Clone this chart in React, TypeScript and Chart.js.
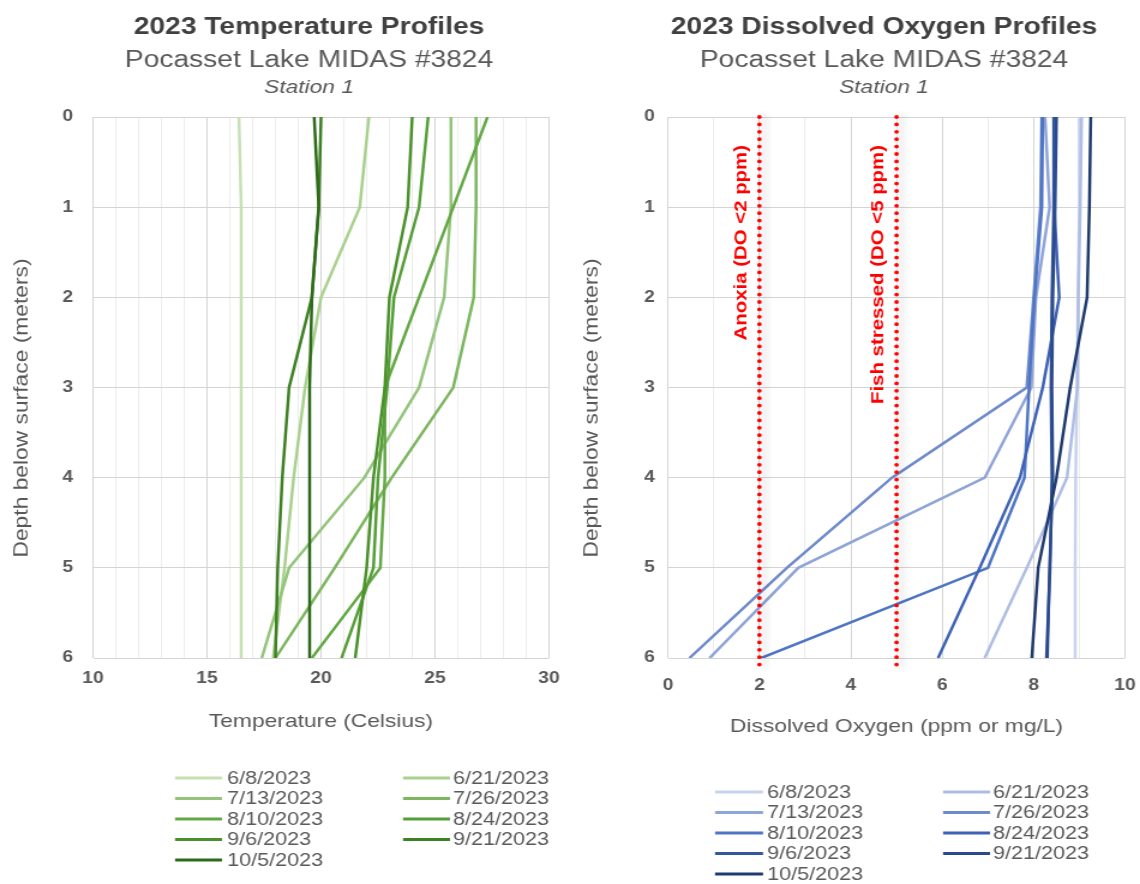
import React, { useEffect, useRef } from 'react';
import { Chart, registerables } from 'chart.js';

Chart.register(...registerables);

const FONT = "'Liberation Sans', Arial, Helvetica, sans-serif";
const STRETCH = 1.2;
const PAGE_W = 570;
const PAGE_H = 884;

// ---------- data ----------
const depths = [0, 1, 2, 3, 4, 5, 6];
const surveyDates = ['6/8/2023', '6/21/2023', '7/13/2023', '7/26/2023', '8/10/2023', '8/24/2023', '9/6/2023', '9/21/2023', '10/5/2023'];

// Temperature (Celsius) at depths 0..6 m
const temp0608 = [16.4, 16.5, 16.5, 16.5, 16.5, 16.5, 16.5];
const temp0621 = [22.1, 21.7, 20.0, 19.3, 18.8, 18.4, 17.9];
const temp0713 = [25.7, 25.7, 25.4, 24.3, 21.9, 18.6, 17.4];
const temp0726 = [26.8, 26.8, 26.7, 25.8, 23.1, 20.6, 18.0];
const temp0810 = [27.3, 25.8, 24.3, 22.8, 22.8, 22.6, 19.6];
const temp0824 = [24.7, 24.3, 23.2, 22.9, 22.5, 22.3, 20.9];
const temp0906 = [24.0, 23.8, 23.0, 22.8, 22.3, 22.0, 21.5];
const temp0921 = [20.0, 19.9, 19.6, 18.6, 18.3, 18.1, 18.0];
const temp1005 = [19.7, 19.9, 19.6, 19.5, 19.5, 19.5, 19.5];

// Dissolved oxygen (mg/L) at depths 0..6 m
const do0608 = [9.0, 9.0, 8.97, 8.95, 8.92, 8.91, 8.91];
const do0621 = [9.05, 9.02, 8.98, 8.96, 8.73, 7.85, 6.93];
const do0713 = [8.25, 8.35, 8.05, 7.95, 6.93, 2.85, 0.91];
const do0726 = [8.18, 8.15, 8.0, 7.85, 4.9, 2.6, 0.47];
const do0810 = [8.2, 8.18, 8.02, 7.9, 7.8, 7.0, 2.04];
const do0824 = [8.47, 8.45, 8.56, 8.2, 7.7, 6.82, 5.91];
const do0906 = [8.45, 8.44, 8.4, 8.38, 8.4, 8.36, 8.28];
const do0921 = [8.5, 8.47, 8.42, 8.4, 8.42, 8.35, 8.3];
const do1005 = [9.25, 9.22, 9.17, 8.8, 8.5, 8.1, 7.96];

const doThresholds = [2, 5];
const doThresholdLabels = ['Anoxia (DO <2 ppm)', 'Fish stressed (DO <5 ppm)'];

const greenColors = ['#c6e0b4', '#a9d18e', '#92c47a', '#7cb65f', '#64a845', '#569e38', '#4a912b', '#3e8024', '#2d6a1a'];
const blueColors = ['#c8d2ec', '#aebde3', '#8fa4d7', '#6f8bcc', '#4f75c5', '#3f63b4', '#34569f', '#2a4a8c', '#1f3a6e'];

const tempSeries = [temp0608, temp0621, temp0713, temp0726, temp0810, temp0824, temp0906, temp0921, temp1005];
const doSeries = [do0608, do0621, do0713, do0726, do0810, do0824, do0906, do0921, do1005];

// ---------- helpers ----------
function profileDatasets(series: number[][], colors: string[]) {
  return series.map((vals, i) => ({
    label: surveyDates[i],
    data: vals.map((v, k) => ({ x: v, y: depths[k] })),
    borderColor: colors[i],
    backgroundColor: colors[i],
    borderWidth: 2.5,
    pointRadius: 0,
    pointHoverRadius: 0,
    showLine: true,
    fill: false,
    tension: 0,
    order: -i,
    isProfile: true,
  }));
}

function thresholdDatasets() {
  return doThresholds.map((t, i) => ({
    label: doThresholdLabels[i],
    data: [{ x: t, y: depths[0] }, { x: t, y: depths[depths.length - 1] + 0.08 }],
    borderColor: '#ff0000',
    borderWidth: 3.8,
    borderDash: [0, 7.4],
    borderCapStyle: 'round',
    pointRadius: 0,
    showLine: true,
    fill: false,
    clip: false,
    order: -100,
    isThreshold: true,
    thresholdText: doThresholdLabels[i],
  }));
}

function drawRotated(ctx: CanvasRenderingContext2D, text: string, x: number, y: number, align: CanvasTextAlign) {
  ctx.save();
  ctx.translate(x, y);
  ctx.scale(1 / STRETCH, STRETCH);
  ctx.rotate(-Math.PI / 2);
  ctx.textAlign = align;
  ctx.textBaseline = 'middle';
  ctx.fillText(text, 0, 0);
  ctx.restore();
}

type PanelSpec = {
  pageLeft: number;
  plotLeft: number;
  plotRight: number;
  plotTop: number;
  plotBottom: number;
  title: string;
  subtitle: string;
  station: string;
  titleCx: number;
  xMin: number;
  xMax: number;
  xLabelEvery: number;
  xTickPad: number;
  xTitle: string;
  xTitleY: number;
  yTitle: string;
  yTitleX: number;
  yTitleCy: number;
  yTickPad: number;
  legendCol1: [number, number, number];
  legendCol2: [number, number, number];
  legendRow0: number;
  legendGap: number;
  datasets: any[];
};

function makePanelPlugin(spec: PanelSpec) {
  const lx = (px: number) => (px - spec.pageLeft) / STRETCH;
  return {
    id: 'panelDecor',
    beforeDatasetDraw(chart: any, args: any) {
      const ds = chart.data.datasets[args.index];
      if (ds && ds.isThreshold) {
        const ctx = chart.ctx;
        ctx.shadowColor = 'rgba(0,0,0,0.28)';
        ctx.shadowBlur = 6;
        ctx.shadowOffsetX = 4;
        ctx.shadowOffsetY = 0;
      }
    },
    afterDatasetDraw(chart: any, args: any) {
      const ds = chart.data.datasets[args.index];
      if (ds && ds.isThreshold) {
        const ctx = chart.ctx;
        ctx.shadowColor = 'rgba(0,0,0,0)';
        ctx.shadowBlur = 0;
        ctx.shadowOffsetX = 0;
      }
    },
    afterDraw(chart: any) {
      const ctx: CanvasRenderingContext2D = chart.ctx;
      const area = chart.chartArea;
      ctx.save();
      // titles
      ctx.textAlign = 'center';
      ctx.textBaseline = 'alphabetic';
      ctx.fillStyle = '#404040';
      ctx.font = `bold 23.5px ${FONT}`;
      ctx.fillText(spec.title, lx(spec.titleCx), 33.5);
      ctx.fillStyle = '#595959';
      ctx.font = `23.5px ${FONT}`;
      ctx.fillText(spec.subtitle, lx(spec.titleCx), 67);
      ctx.font = `italic 19px ${FONT}`;
      ctx.fillText(spec.station, lx(spec.titleCx), 93);

      // axis titles
      ctx.font = `19px ${FONT}`;
      ctx.fillStyle = '#595959';
      ctx.textBaseline = 'middle';
      ctx.fillText(spec.xTitle, (area.left + area.right) / 2, spec.xTitleY);
      drawRotated(ctx, spec.yTitle, lx(spec.yTitleX), spec.yTitleCy, 'center');

      // threshold labels
      const xScale = chart.scales.x;
      chart.data.datasets.forEach((ds: any) => {
        if (!ds.isThreshold) return;
        ctx.fillStyle = '#ff0000';
        ctx.font = `bold 17px ${FONT}`;
        const px = xScale.getPixelForValue(ds.data[0].x);
        drawRotated(ctx, ds.thresholdText, px - 18 / STRETCH, area.top + 28, 'right');
      });

      // legend
      const items = chart.data.datasets.filter((d: any) => d.isProfile);
      items.forEach((ds: any, i: number) => {
        const col = i % 2;
        const row = Math.floor(i / 2);
        const y = spec.legendRow0 + row * spec.legendGap;
        const c = col === 0 ? spec.legendCol1 : spec.legendCol2;
        ctx.strokeStyle = ds.borderColor;
        ctx.lineWidth = 3;
        ctx.lineCap = 'butt';
        ctx.beginPath();
        ctx.moveTo(lx(c[0]), y);
        ctx.lineTo(lx(c[1]), y);
        ctx.stroke();
        ctx.fillStyle = '#595959';
        ctx.font = `18px ${FONT}`;
        ctx.textAlign = 'left';
        ctx.textBaseline = 'middle';
        ctx.fillText(ds.label, lx(c[2]), y + 1);
      });
      ctx.restore();
    },
  };
}

function buildConfig(spec: PanelSpec) {
  const logicalW = PAGE_W / STRETCH;
  const yAxisWidth = (spec.plotLeft - spec.pageLeft) / STRETCH;
  const padRight = logicalW - (spec.plotRight - spec.pageLeft) / STRETCH;
  const xAxisHeight = 40;
  const padBottom = PAGE_H - spec.plotBottom - xAxisHeight;
  return {
    type: 'scatter',
    data: { datasets: spec.datasets },
    plugins: [makePanelPlugin(spec)],
    options: {
      responsive: false,
      animation: false,
      devicePixelRatio: 1,
      events: [],
      layout: { padding: { left: 0, right: padRight, top: spec.plotTop, bottom: padBottom } },
      plugins: {
        legend: { display: false },
        tooltip: { enabled: false },
        title: { display: false },
      },
      scales: {
        x: {
          type: 'linear',
          position: 'bottom',
          min: spec.xMin,
          max: spec.xMax,
          ticks: {
            stepSize: 1,
            autoSkip: false,
            maxRotation: 0,
            padding: spec.xTickPad,
            color: '#595959',
            font: { family: FONT, size: 16, weight: 'bold' },
            callback: (v: any) => (Number(v) % spec.xLabelEvery === 0 ? String(v) : ''),
          },
          grid: {
            drawTicks: false,
            lineWidth: 1,
            color: (c: any) => (c.tick && Number(c.tick.value) % spec.xLabelEvery === 0 ? '#d4d4d4' : '#ececec'),
          },
          border: { display: false },
          afterFit: (s: any) => {
            s.height = xAxisHeight;
            s.paddingLeft = 0;
            s.paddingRight = 0;
          },
        },
        y: {
          type: 'linear',
          position: 'left',
          min: 0,
          max: 6,
          reverse: true,
          ticks: {
            stepSize: 1,
            autoSkip: false,
            padding: spec.yTickPad,
            color: '#595959',
            font: { family: FONT, size: 16, weight: 'bold' },
          },
          grid: { drawTicks: false, lineWidth: 1, color: '#d4d4d4' },
          border: { display: false },
          afterFit: (s: any) => {
            s.width = yAxisWidth;
            s.paddingTop = 0;
            s.paddingBottom = 0;
          },
        },
      },
    },
  };
}

const tempSpec: PanelSpec = {
  pageLeft: 0,
  plotLeft: 93,
  plotRight: 549,
  plotTop: 117,
  plotBottom: 658,
  title: '2023 Temperature Profiles',
  subtitle: 'Pocasset Lake MIDAS #3824',
  station: 'Station 1',
  titleCx: 309,
  xMin: 10,
  xMax: 30,
  xLabelEvery: 5,
  xTickPad: 11,
  xTitle: 'Temperature (Celsius)',
  xTitleY: 722,
  yTitle: 'Depth below surface (meters)',
  yTitleX: 22,
  yTitleCy: 408,
  yTickPad: 16.7,
  legendCol1: [175, 222, 227],
  legendCol2: [403, 450, 453],
  legendRow0: 778,
  legendGap: 20.5,
  datasets: profileDatasets(tempSeries, greenColors),
};

const doSpec: PanelSpec = {
  pageLeft: 570,
  plotLeft: 668,
  plotRight: 1125,
  plotTop: 117,
  plotBottom: 658,
  title: '2023 Dissolved Oxygen Profiles',
  subtitle: 'Pocasset Lake MIDAS #3824',
  station: 'Station 1',
  titleCx: 884,
  xMin: 0,
  xMax: 10,
  xLabelEvery: 2,
  xTickPad: 18,
  xTitle: 'Dissolved Oxygen (ppm or mg/L)',
  xTitleY: 727,
  yTitle: 'Depth below surface (meters)',
  yTitleX: 592,
  yTitleCy: 408,
  yTickPad: 11,
  legendCol1: [715, 763, 767],
  legendCol2: [943, 990, 993],
  legendRow0: 792,
  legendGap: 20.5,
  datasets: [...profileDatasets(doSeries, blueColors), ...thresholdDatasets()],
};

function Panel({ spec }: { spec: PanelSpec }) {
  const ref = useRef<HTMLCanvasElement | null>(null);
  useEffect(() => {
    if (!ref.current) return;
    const chart = new Chart(ref.current, buildConfig(spec) as any);
    return () => chart.destroy();
  }, [spec]);
  return (
    <canvas
      ref={ref}
      width={Math.round(PAGE_W / STRETCH)}
      height={PAGE_H}
      style={{ position: 'absolute', left: spec.pageLeft, top: 0, width: PAGE_W, height: PAGE_H }}
    />
  );
}

export default function App() {
  return (
    <div style={{ position: 'fixed', left: 0, top: 0, width: 1140, height: 884, background: '#ffffff', overflow: 'hidden' }}>
      <Panel spec={tempSpec} />
      <Panel spec={doSpec} />
    </div>
  );
}
